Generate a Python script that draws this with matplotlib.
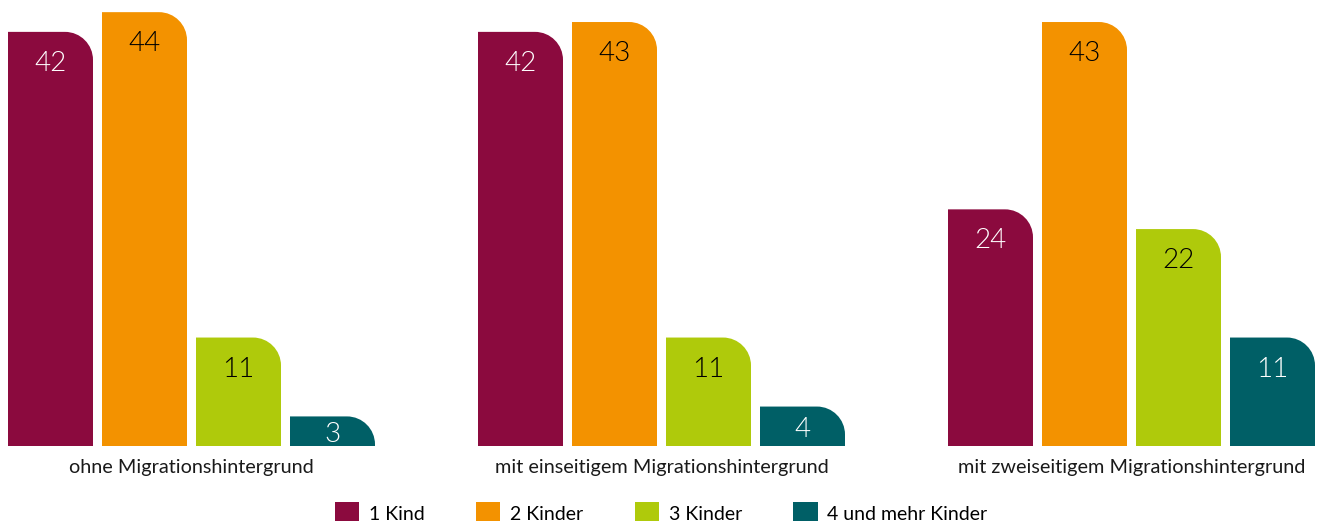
import matplotlib
matplotlib.use("Agg")
import matplotlib.pyplot as plt
from matplotlib.path import Path
from matplotlib.patches import PathPatch, Patch

groups = ["ohne Migrationshintergrund", "mit einseitigem Migrationshintergrund",
          "mit zweiseitigem Migrationshintergrund"]
series = ["1 Kind", "2 Kinder", "3 Kinder", "4 und mehr Kinder"]
values = {
    "1 Kind": [42, 42, 24],
    "2 Kinder": [44, 43, 43],
    "3 Kinder": [11, 11, 22],
    "4 und mehr Kinder": [3, 4, 11],
}
colors = ["#8B0A3E", "#F39200", "#AFCA0B", "#005F66"]
text_colors = ["white", "black", "black", "white"]

W, H, DPI = 1317, 521, 100
fig = plt.figure(figsize=(W / DPI, H / DPI), dpi=DPI)
base_px = 75          # baseline from bottom in px
px_per_unit = 9.86
ax = fig.add_axes([0, base_px / H, 1, (H - base_px) / H])
ax.set_xlim(0, W)
ax.set_ylim(0, (H - base_px) / px_per_unit)
ax.axis("off")

bar_w = 85
step = 94
group_step = 470
x0 = 8
radius_px = 28
font = "Lato"

def rounded_bar(ax, x, w, h, color):
    h_px = h * px_per_unit
    r = min(radius_px, h_px, w)
    rx = r
    ry = r / px_per_unit
    k = 0.5523
    verts = [(x, 0), (x, h), (x + w - rx, h),
             (x + w - rx + k * rx, h), (x + w, h - ry + k * ry), (x + w, h - ry),
             (x + w, 0), (x, 0)]
    codes = [Path.MOVETO, Path.LINETO, Path.LINETO,
             Path.CURVE4, Path.CURVE4, Path.CURVE4,
             Path.LINETO, Path.CLOSEPOLY]
    ax.add_patch(PathPatch(Path(verts, codes), facecolor=color, edgecolor="none"))

for gi, g in enumerate(groups):
    gx = x0 + gi * group_step
    for si, s in enumerate(series):
        v = values[s][gi]
        bx = gx + si * step
        rounded_bar(ax, bx, bar_w, v, colors[si])
        off_px = min(29, v * px_per_unit / 2 + 1)
        ax.text(bx + bar_w / 2, v - off_px / px_per_unit, str(v),
                ha="center", va="center_baseline", color=text_colors[si],
                fontsize=20, family=font, weight=300)
    center = gx + (3 * step + bar_w) / 2
    ax.text(center, -21 / px_per_unit, g, ha="center", va="center",
            fontsize=14.3, family=font, color="#1a1a1a")

handles = [Patch(facecolor=c, edgecolor="none") for c in colors]
fig.legend(handles, series, loc="lower center", bbox_to_anchor=(0.502, -0.02),
           ncol=4, frameon=False, prop={"family": font, "size": 14},
           handlelength=1.25, handleheight=1.3, handletextpad=0.5,
           columnspacing=2.65, borderaxespad=0)

fig.savefig("out.png", dpi=DPI)
